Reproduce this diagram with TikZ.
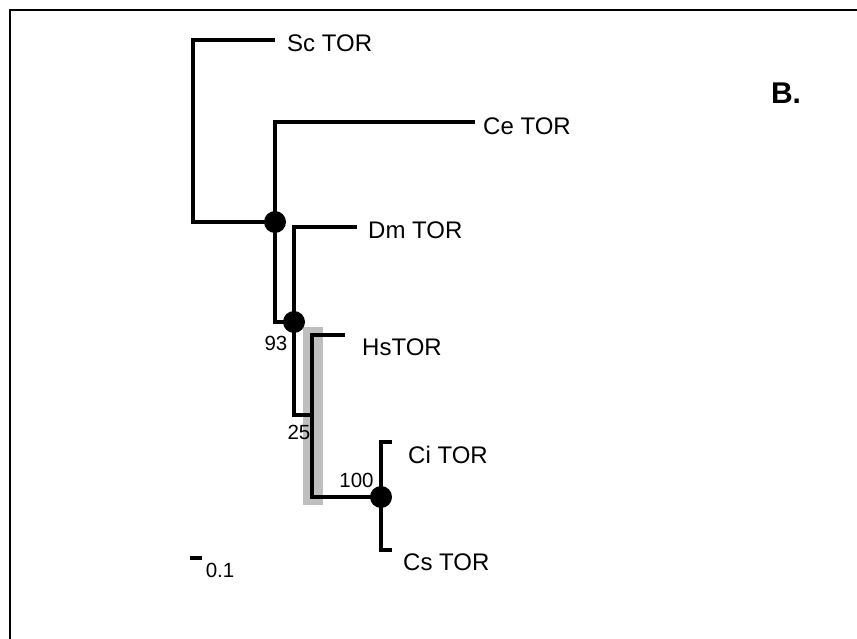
\documentclass[tikz,border=0pt]{standalone}
\usepackage{fontspec}
\setmainfont{Liberation Sans}
\begin{document}
\begin{tikzpicture}[x=1pt,y=-1pt,
  br/.style={line width=3.5pt},
  dot/.style={circle, fill, inner sep=0pt, minimum size=22pt},
  tip/.style={anchor=west, inner sep=0pt, font=\fontsize{24}{24}\selectfont},
  bs/.style={inner sep=0pt, font=\fontsize{20.5}{20.5}\selectfont}]
\useasboundingbox (0,0) rectangle (857,639);
\coordinate (fr0) at (10,639);
\coordinate (fr1) at (10,10);
\coordinate (fr2) at (857,10);
\draw[line width=2.5pt] (fr0) -- (fr1) -- (fr2);
\fill[black!25] (303,327) rectangle (323,505);
\coordinate (nid0) at (193,131);
\coordinate (tid0) at (275,40);
\coordinate (nid1) at (275,222);
\coordinate (tid1) at (475,122);
\coordinate (nid2) at (294,322);
\coordinate (tid2) at (357,227);
\coordinate (nid3) at (312,415);
\coordinate (tid3) at (345,335);
\coordinate (nid4) at (381,497);
\coordinate (tid4) at (392,442);
\coordinate (tid5) at (392,550);
\draw[br](nid0) |- (tid0);
\draw[br](nid0) |- (nid1);
\draw[br](nid1) |- (tid1);
\draw[br](nid1) |- (nid2);
\draw[br](nid2) |- (tid2);
\draw[br](nid2) |- (nid3);
\draw[br](nid3) |- (tid3);
\draw[br](nid3) |- (nid4);
\draw[br](nid4) |- (tid4);
\draw[br](nid4) |- (tid5);
\node[dot] (dot1) at (nid1){};
\node[dot] (dot2) at (nid2){};
\node[dot] (dot4) at (nid4){};
\node[tip] (lab0) at (287,43.5){Sc TOR};
\node[tip] (lab1) at (483,126){Ce TOR};
\node[tip] (lab2) at (368,230){Dm TOR};
\node[tip] (lab3) at (362,347.5){HsTOR};
\node[tip] (lab4) at (408,455){Ci TOR};
\node[tip] (lab5) at (403,562.5){Cs TOR};
\node[bs] (bs2) at (276,343.5){93};
\node[bs] (bs3) at (299,432.5){25};
\node[bs] (bs4) at (356.5,480){100};
\coordinate (sb0) at (190,558);
\coordinate (sb1) at (202,558);
\draw[br](sb0) -- (sb1);
\node[bs] (sblab) at (220,570.5){0.1};
\node[inner sep=0pt, font=\fontsize{30}{30}\selectfont\bfseries] (panel) at (786,93.5){B.};
\end{tikzpicture}
\end{document}
